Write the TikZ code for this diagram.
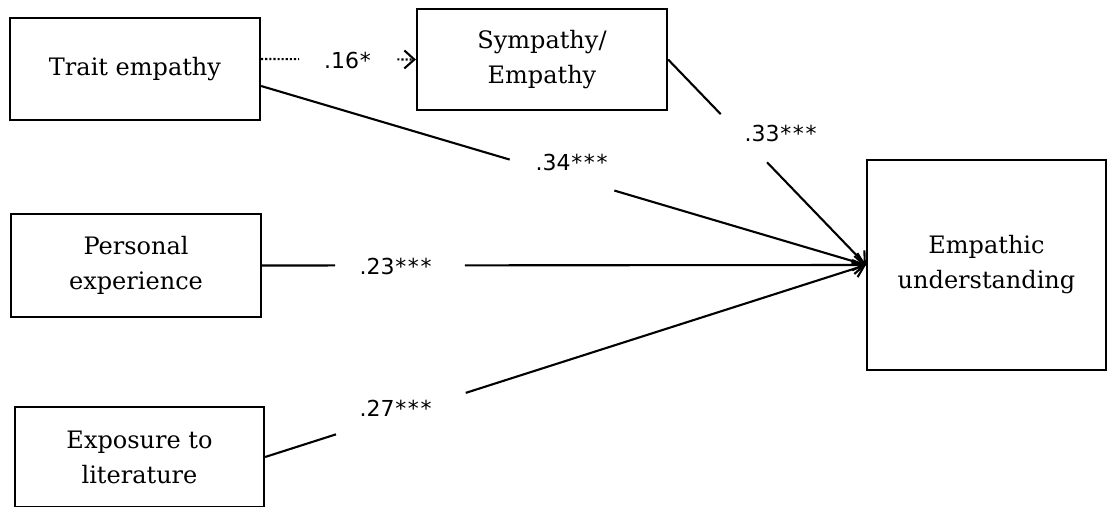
\documentclass[tikz,border=0pt]{standalone}
\usepackage{fontspec}
\setmainfont{DejaVu Serif}
\newfontfamily\lblfont{DejaVu Sans}
\usetikzlibrary{arrows.meta,calc}
\newcommand{\sigst}{\kern0.8pt*\kern0.8pt}
\tikzset{
  box/.style={draw, line width=2.2pt, minimum width=250pt, align=center, inner sep=0pt,
              font=\fontsize{24}{35}\selectfont},
  conn/.style={line width=2.1pt},
  tip/.style={-{Straight Barb[length=10pt,width=18pt,line width=2.1pt]}},
  lbl/.style={font=\lblfont\fontsize{22}{24}\selectfont, inner sep=0pt}
}
\begin{document}
\begin{tikzpicture}[x=1pt,y=-1pt]
\useasboundingbox (0,0) rectangle (1107,506);
\clip (0,0) rectangle (1107,506);
\node[box, minimum height=102pt] (te) at (135,69) {Trait empathy};
\node[box, minimum height=101pt] (sy) at (542,59.5) {Sympathy/\\Empathy};
\node[box, minimum height=103pt] (pe) at (136,265.5) {Personal\\experience};
\node[box, minimum width=249pt, minimum height=100pt] (ex) at (139.5,457) {Exposure to\\literature};
\node[box, minimum width=239pt, minimum height=210pt] (eu) at (986.5,265) {Empathic\\understanding};

\coordinate (teA) at ([yshift=10pt]te.east);
\coordinate (teB) at ([yshift=-17pt]te.east);

% dotted path trait -> sympathy
\draw[conn, dotted] (teA) -- ($(teA)!0.245!(sy.west)$);
\draw[conn, dotted, tip] ($(teA)!0.88!(sy.west)$) -- (sy.west);
\node[lbl] (l16) at (348,60) {.16\sigst};

% trait -> empathic
\draw[conn] (teB) -- ($(teB)!0.411!(eu.west)$);
\draw[conn, tip] ($(teB)!0.584!(eu.west)$) -- (eu.west);
\node[lbl] (l34) at (572,162) {.34\sigst\sigst\sigst};

% sympathy -> empathic
\draw[conn] (sy.east) -- ($(sy.east)!0.266!(eu.west)$);
\draw[conn, tip] ($(sy.east)!0.50!(eu.west)$) -- (eu.west);
\node[lbl] (l33) at (781,133) {.33\sigst\sigst\sigst};

% personal -> empathic
\draw[conn] (pe.east) -- ($(pe.east)!0.121!(eu.west)$);
\draw[conn, tip] ($(pe.east)!0.336!(eu.west)$) -- (eu.west);
\node[lbl] (l23) at (396,266) {.23\sigst\sigst\sigst};

% exposure -> empathic
\draw[conn] (ex.east) -- ($(ex.east)!0.118!(eu.west)$);
\draw[conn, tip] ($(ex.east)!0.334!(eu.west)$) -- (eu.west);
\node[lbl] (l27) at (396,408) {.27\sigst\sigst\sigst};
\end{tikzpicture}
\end{document}
